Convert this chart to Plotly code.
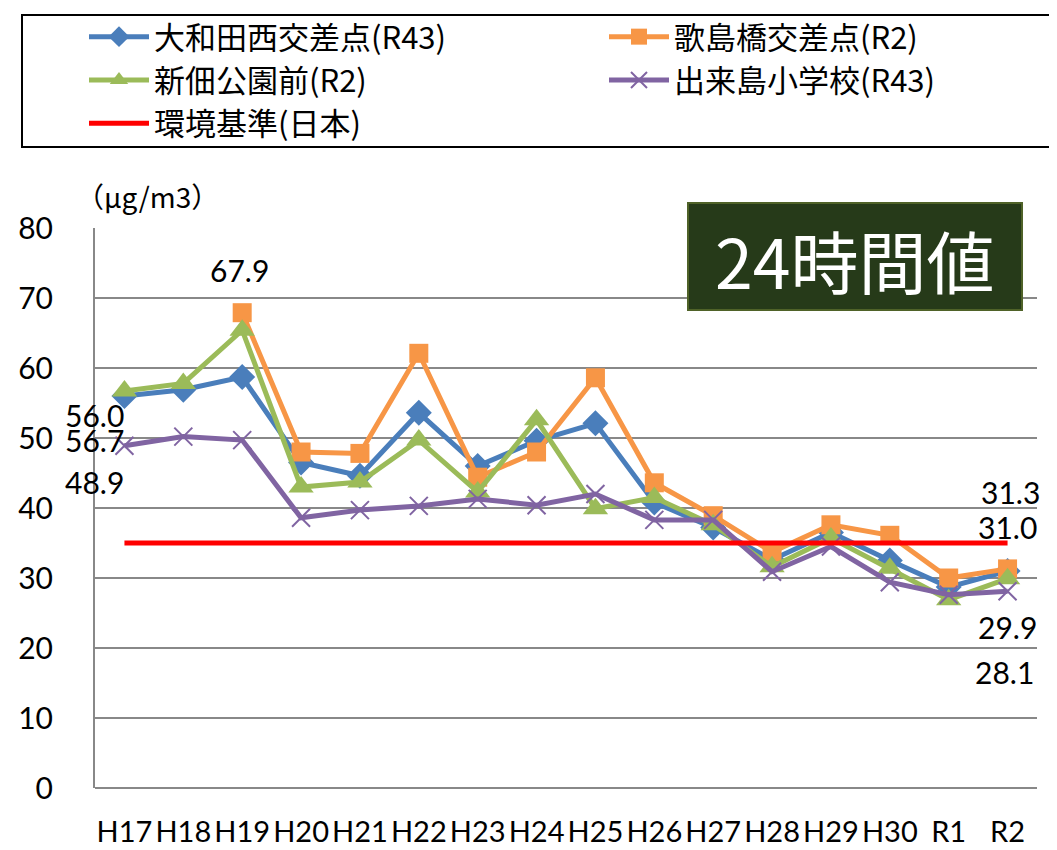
import plotly.graph_objects as go

categories = ["H17", "H18", "H19", "H20", "H21", "H22", "H23", "H24", "H25",
              "H26", "H27", "H28", "H29", "H30", "R1", "R2"]

owadanishi = [56.0, 56.9, 58.7, 46.5, 44.6, 53.6, 46.0, 49.6, 52.1,
              40.8, 37.2, 32.6, 36.5, 32.5, 28.7, 31.0]
utashimabashi = [None, None, 67.9, 48.0, 47.8, 62.1, 44.4, 48.0, 58.6,
                 43.6, 38.9, 33.7, 37.6, 36.1, 30.0, 31.3]
shintsukuda = [56.7, 57.8, 65.4, 43.0, 43.7, 49.7, 42.3, 52.6, 39.9,
               41.5, 37.6, 31.6, 35.7, 31.4, 26.9, 29.9]
dekijima = [48.9, 50.2, 49.7, 38.6, 39.7, 40.3, 41.3, 40.4, 42.0,
            38.3, 38.3, 30.9, 34.5, 29.4, 27.6, 28.1]
standard = [35.0] * len(categories)

names = ["大和田西交差点(R43)", "歌島橋交差点(R2)", "新佃公園前(R2)",
         "出来島小学校(R43)", "環境基準(日本)"]
colors = ["#4A7EBB", "#F79646", "#9BBB59", "#8064A2", "#FF0000"]
symbols = ["diamond", "square", "triangle-up", "x-thin", None]
marker_sizes = [20, 19, 22, 18, None]
legend_ids = ["legend", "legend2", "legend", "legend2", "legend"]

NUM_FONT = "Lato, Liberation Sans, sans-serif"
JP_FONT = "Noto Sans CJK JP, sans-serif"

# page has 8px body offset: figure is drawn at (8, 8)
OFF = 8
W, H = 1057 - OFF, 850 - OFF

fig = go.Figure()
series = [owadanishi, utashimabashi, shintsukuda, dekijima]
for i, vals in enumerate(series):
    mk = dict(symbol=symbols[i], size=marker_sizes[i], color=colors[i])
    if symbols[i] == "x-thin":
        mk["line"] = dict(color=colors[i], width=2)
    fig.add_trace(go.Scatter(
        x=categories, y=vals, name=names[i], mode="lines+markers",
        line=dict(color=colors[i], width=5), marker=mk,
        connectgaps=False, legend=legend_ids[i],
    ))
fig.add_trace(go.Scatter(
    x=categories, y=standard, name=names[4], mode="lines",
    line=dict(color=colors[4], width=5), legend=legend_ids[4],
))

# data labels (value, category index, xshift, yshift)
labels = [
    (owadanishi[0], 0, -30, -19),
    (shintsukuda[0], 0, -30, -49),
    (dekijima[0], 0, -30, -36),
    (utashimabashi[2], 2, -3, 43),
    (utashimabashi[15], 15, 3, 77),
    (owadanishi[15], 15, 0, 44),
    (shintsukuda[15], 15, 0, -48),
    (dekijima[15], 15, -3, -81),
]
for v, ci, xs, ys in labels:
    fig.add_annotation(x=categories[ci], y=v, text=f"{v:.1f}", showarrow=False,
                       xshift=xs, yshift=ys,
                       font=dict(family=NUM_FONT, size=30, color="#000000"))

# unit label
fig.add_annotation(xref="paper", yref="paper", x=(74 - 95) / 942,
                   y=(788 - 196) / 560, xanchor="left", yanchor="middle",
                   text="（μg/m3）", showarrow=False,
                   font=dict(family=JP_FONT, size=28, color="#000000"))

# title box
fig.add_shape(type="rect", xref="paper", yref="paper",
              x0=(688 - 95) / 942, x1=(1022 - 95) / 942,
              y0=(788 - 310) / 560, y1=(788 - 203) / 560,
              fillcolor="#263A19", line=dict(color="#4F6228", width=2))
fig.add_annotation(xref="paper", yref="paper", x=(854 - 95) / 942,
                   y=(788 - 259) / 560, text="24時間値", showarrow=False,
                   xanchor="center", yanchor="middle",
                   font=dict(family=JP_FONT, size=68, color="#FFFFFF"))

# legend frame
fig.add_shape(type="rect", xref="paper", yref="paper",
              x0=(22 - 95) / 942, x1=(1070 - 95) / 942,
              y0=(788 - 147) / 560, y1=(788 - 15) / 560,
              fillcolor="rgba(0,0,0,0)", line=dict(color="#000000", width=2))

leg_common = dict(
    orientation="h", xref="container", yref="container",
    xanchor="left", yanchor="top", bgcolor="rgba(0,0,0,0)", borderwidth=0,
    font=dict(family=JP_FONT, size=31, color="#000000"),
    itemwidth=60, traceorder="normal",
    entrywidth=440, entrywidthmode="pixels",
)

fig.update_layout(
    width=W, height=H,
    margin=dict(l=95 - OFF, r=20, t=228 - OFF, b=62),
    paper_bgcolor="#FFFFFF", plot_bgcolor="#FFFFFF",
    showlegend=True,
    legend=dict(x=(84 - OFF) / W, y=1 - (10 - OFF) / H, **leg_common),
    legend2=dict(x=(604 - OFF) / W, y=1 - (10 - OFF) / H, **leg_common),
    xaxis=dict(
        type="category", range=[-0.5, 15.5], showgrid=False,
        showline=False, ticks="", automargin=False,
        tickfont=dict(family=NUM_FONT, size=29, color="#000000"),
        ticklabelstandoff=24,
    ),
    yaxis=dict(
        range=[0, 80], dtick=10, showgrid=True, gridcolor="#888888",
        gridwidth=2, showline=True, linecolor="#888888", linewidth=2,
        zeroline=True, zerolinecolor="#888888", zerolinewidth=2,
        ticks="", automargin=False,
        tickfont=dict(family=NUM_FONT, size=30, color="#000000"),
        ticklabelstandoff=34,
    ),
)

fig.write_html("out.html")
